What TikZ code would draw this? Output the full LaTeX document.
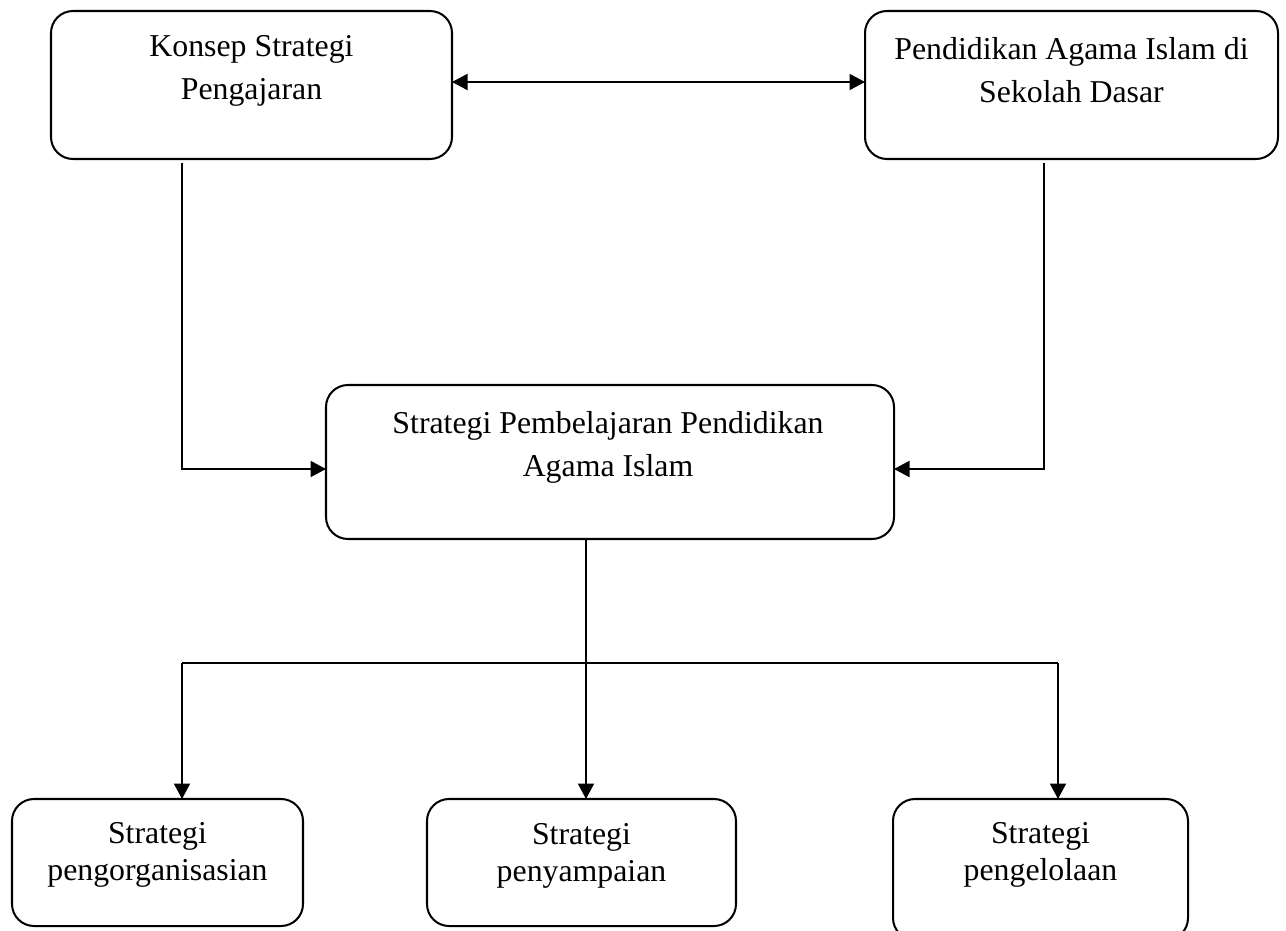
\documentclass[tikz,border=0pt]{standalone}
\usepackage{fontspec}
\setmainfont{Liberation Serif}
\usepackage{tikz}
\usetikzlibrary{arrows.meta}

\begin{document}
\begin{tikzpicture}[
		kotak/.style={draw,rounded corners=0.44cm,line width=1.15pt,inner sep=0pt,outer sep=0pt},
		teks/.style={anchor=north,align=center,inner sep=0pt,font=\fontsize{18.1}{24.4}\selectfont},
		tekskecil/.style={teks,font=\fontsize{18.1}{21}\selectfont},
		panah/.style={line width=1.1pt,-{Triangle[length=0.31cm,width=0.32cm]}},
		garis/.style={line width=1.1pt}]
		\clip (0,0) rectangle (25.72,-18.62);
		% kotak atas
		\node[kotak,minimum width=8.02cm,minimum height=2.96cm] (konsep) at (5.03,-1.70) {};
		\node[teks] (konseptxt) at (5.03,-0.70) {Konsep Strategi\\Pengajaran};
		\node[kotak,minimum width=8.26cm,minimum height=2.96cm] (pai) at (21.43,-1.70) {};
		\node[teks] (paitxt) at (21.43,-0.74) {Pendidikan Agama Islam di\\Sekolah Dasar};
		% kotak tengah
		\node[kotak,minimum width=11.36cm,minimum height=3.08cm] (strategi) at (12.20,-9.24) {};
		\node[teks] (strategitxt) at (12.16,-8.22) {Strategi Pembelajaran Pendidikan\\Agama Islam};
		% kotak bawah
		\node[kotak,minimum width=5.82cm,minimum height=2.54cm] (org) at (3.15,-17.25) {};
		\node[tekskecil] (orgtxt) at (3.15,-16.44) {Strategi\\pengorganisasian};
		\node[kotak,minimum width=6.18cm,minimum height=2.54cm] (sampai) at (11.63,-17.25) {};
		\node[tekskecil] (sampaitxt) at (11.63,-16.46) {Strategi\\penyampaian};
		\node[kotak,minimum width=5.90cm,minimum height=2.82cm] (kelola) at (20.81,-17.39) {};
		\node[tekskecil] (kelolatxt) at (20.81,-16.44) {Strategi\\pengelolaan};

		\coordinate (atas) at (0,-1.64);
		\coordinate (kiriatas) at (3.64,-3.26);
		\coordinate (kananatas) at (20.88,-3.26);
		\coordinate (tengah) at (0,-9.38);
		\coordinate (pusat) at (11.72,0);
		\coordinate (kiri) at (3.64,-13.26);
		\coordinate (kanan) at (21.16,-13.26);

		\draw[panah,{Triangle[length=0.31cm,width=0.32cm]}-{Triangle[length=0.31cm,width=0.32cm]}] (konsep.east |- atas) -- (pai.west |- atas);
		\draw[panah] (kiriatas) |- (strategi.west |- tengah);
		\draw[panah] (kananatas) |- (strategi.east |- tengah);
		\draw[panah] (strategi.south -| pusat) -- (sampai.north -| pusat);
		\draw[garis] (kiri) -- (kanan);
		\draw[panah] (kiri) -- (kiri |- org.north);
		\draw[panah] (kanan) -- (kanan |- kelola.north);
\end{tikzpicture}
\end{document}
